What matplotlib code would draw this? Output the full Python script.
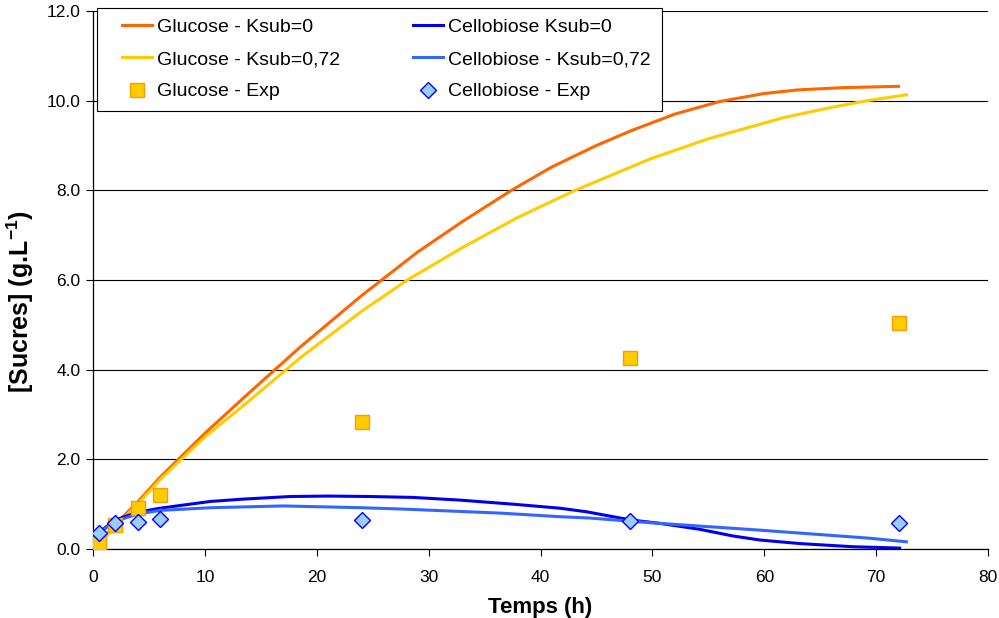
import matplotlib
matplotlib.use('Agg')
import matplotlib.pyplot as plt
from matplotlib.ticker import FormatStrFormatter, MultipleLocator
from matplotlib.legend_handler import HandlerLine2D

plt.rcParams['font.family'] = ['Liberation Sans', 'DejaVu Sans']
plt.rcParams['mathtext.fontset'] = 'custom'
plt.rcParams['mathtext.rm'] = 'Liberation Sans'
plt.rcParams['mathtext.bf'] = 'Liberation Sans:bold'

# model curves
glucose_k0_t = [0.5, 2, 4, 6, 10, 13.5, 18.5, 24, 29, 33, 37.4, 41, 45, 48, 52, 56, 60, 63, 67, 72]
glucose_k0 = [0.12, 0.55, 1.05, 1.6, 2.58, 3.38, 4.5, 5.65, 6.62, 7.3, 8.0, 8.52, 9.0, 9.32, 9.7,
              9.98, 10.16, 10.24, 10.29, 10.32]

glucose_k72_t = [0.5, 2, 4, 6, 10, 13.5, 18.5, 24, 28.1, 33, 38, 43.1, 49.8, 55, 61.7, 66, 69.2, 72.7]
glucose_k72 = [0.1, 0.5, 1.0, 1.55, 2.5, 3.21, 4.26, 5.3, 6.0, 6.72, 7.4, 8.0, 8.7, 9.15, 9.62, 9.85, 10.0, 10.13]

cello_k0_t = [0.5, 2, 4, 6, 10.5, 13.3, 17.6, 21, 24.8, 28.6, 32.8, 37.5, 41.7, 44.1, 48, 50.7,
              54.2, 55.8, 57.2, 59.6, 63.2, 67.9, 72.1]
cello_k0 = [0.36, 0.65, 0.82, 0.91, 1.06, 1.11, 1.17, 1.18, 1.17, 1.15, 1.09, 1.0, 0.91, 0.83, 0.65, 0.57,
            0.44, 0.36, 0.29, 0.2, 0.12, 0.05, 0.02]

cello_k72_t = [0.5, 2, 4, 6, 10.5, 17, 24, 27.7, 36.4, 41.7, 44.4, 48, 50.7, 59.6, 69.4, 72.7]
cello_k72 = [0.35, 0.62, 0.78, 0.86, 0.92, 0.96, 0.92, 0.89, 0.8, 0.72, 0.69, 0.62, 0.57, 0.42, 0.24, 0.16]

# experimental points
exp_t = [0.5, 2, 4, 6, 24, 48, 72]
glucose_exp = [0.14, 0.54, 0.92, 1.2, 2.83, 4.25, 5.03]
cello_exp = [0.35, 0.57, 0.61, 0.67, 0.64, 0.62, 0.57]

fig = plt.figure(figsize=(9.99, 6.18), dpi=100)
ax = fig.add_axes([0.0931, 0.1117, 0.8959, 0.8705])

ax.set_axisbelow(True)
ax.yaxis.grid(True, color='black', linewidth=0.8)
ax.xaxis.grid(False)

h1, = ax.plot(glucose_k0_t, glucose_k0, color='#FF6600', lw=2.2, label='Glucose - Ksub=0')
h2, = ax.plot(glucose_k72_t, glucose_k72, color='#FFCC00', lw=2.2, label='Glucose - Ksub=0,72')
h4, = ax.plot(cello_k0_t, cello_k0, color='#0000EE', lw=2.2, label='Cellobiose Ksub=0')
h5, = ax.plot(cello_k72_t, cello_k72, color='#3366FF', lw=2.2, label='Cellobiose - Ksub=0,72')
h3, = ax.plot(exp_t, glucose_exp, ls='none', marker='s', ms=10, mfc='#FFCC00', mec='#FF9900',
              mew=1.0, label='Glucose - Exp', zorder=4)
h6, = ax.plot(exp_t, cello_exp, ls='none', marker='D', ms=8, mfc='#99CCFF', mec='#0000FF',
              mew=1.0, label='Cellobiose - Exp', zorder=5)

ax.set_xlim(0, 80)
ax.set_ylim(0, 12)
ax.xaxis.set_major_locator(MultipleLocator(10))
ax.yaxis.set_major_locator(MultipleLocator(2))
ax.yaxis.set_major_formatter(FormatStrFormatter('%.1f'))
ax.tick_params(direction='out', length=5, width=0.8, labelsize=12.5, colors='black', pad=4)
ax.tick_params(axis='x', pad=10)

for side in ['top', 'right']:
    ax.spines[side].set_visible(False)
for side in ['left', 'bottom']:
    ax.spines[side].set_color('black')
    ax.spines[side].set_linewidth(0.9)

ax.set_xlabel('Temps (h)', fontsize=16, fontweight='bold', labelpad=9)
ax.set_ylabel('[Sucres] (g.L$^{\\mathbf{-1}}$)', fontsize=18, fontweight='bold')
ax.yaxis.set_label_coords(-0.064, 0.459)

handles = [h1, h2, h3, h4, h5, h6]
leg = ax.legend(handles=handles, ncol=2, loc='upper left',
                bbox_to_anchor=(0.004, 1.006), borderaxespad=0, fontsize=14,
                fancybox=False, framealpha=1, edgecolor='black', handlelength=2.3,
                labelspacing=0.75, columnspacing=3.0, handletextpad=0.26, borderpad=0.55,
                handler_map={h: HandlerLine2D(xpad=0.77) for h in handles})
leg.get_frame().set_linewidth(0.8)

fig.savefig('out.png', dpi=100)
